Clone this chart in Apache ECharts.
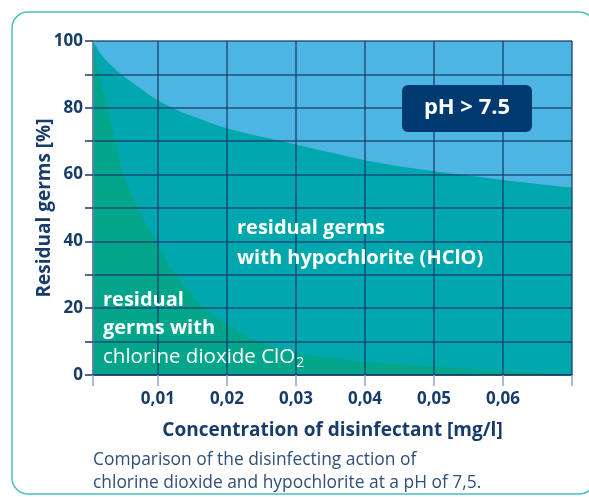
<!DOCTYPE html>
<html><head><meta charset="utf-8">
<script src="https://cdn.jsdelivr.net/npm/echarts@6/dist/echarts.min.js"></script>
<style>html,body{margin:0;padding:0;background:#fff}#c{width:589px;height:497px}</style>
</head><body><div id="c"></div>
<script>
// Hypochlorite (HClO) residual germs curve: concentration [mg/l] -> residual germs [%]
const hypoX = [0.0006, 0.0016, 0.0026, 0.0047, 0.0075, 0.0100, 0.0125, 0.0150, 0.0200, 0.0250, 0.0300, 0.0350, 0.0400, 0.0450, 0.0500, 0.0550, 0.0600, 0.0650, 0.0700];
const hypoY = [100, 96.5, 94.0, 90, 85.8, 82.2, 79.6, 77.5, 73.9, 71.3, 69.0, 66.6, 64.3, 62.5, 61.0, 59.7, 58.4, 57.2, 56.1];
// Chlorine dioxide (ClO2) residual germs curve
const clo2X = [0.0006, 0.0015, 0.0027, 0.0038, 0.0050, 0.0071, 0.0097, 0.0124, 0.0168, 0.0225, 0.0260, 0.0300, 0.0350, 0.0400, 0.0450, 0.0500, 0.0550, 0.0600, 0.0650, 0.0700];
const clo2Y = [100, 90, 80, 70, 60, 50, 40, 30.5, 20, 12, 9.0, 6.6, 5.2, 4.0, 3.2, 2.5, 1.9, 1.3, 0.8, 0.3];
// axis
const xMin = 0.0006, xMax = 0.07;
const xTickLabels = ['0,01', '0,02', '0,03', '0,04', '0,05', '0,06'];
const yLabelled = [0, 20, 40, 60, 80, 100];

const NAVY = '#173c6c';
const FONT = '"Open Sans", "Noto Sans", sans-serif';

const chart = echarts.init(document.getElementById('c'), null, {renderer: 'canvas'});
const pair = (xs, ys) => xs.map((x, i) => [x, ys[i]]);

chart.setOption({
  animation: false,
  grid: {
    left: 93, right: 17, top: 41, bottom: 122,
    show: true, backgroundColor: '#4cb5e1', borderWidth: 0,
    outerBoundsMode: 'none', containLabel: false
  },
  xAxis: {
    type: 'value', min: xMin, max: xMax, splitNumber: 7, z: 10,
    axisLine: {show: true, lineStyle: {color: NAVY, width: 1.5}},
    axisTick: {show: true, length: 11, lineStyle: {color: '#8fa6c4', width: 1.5}},
    splitLine: {show: true, lineStyle: {color: NAVY, width: 1.5, opacity: 0.85}},
    axisLabel: {
      margin: 16, color: NAVY, fontFamily: FONT, fontWeight: 'bold', fontSize: 17,
      showMinLabel: true, showMaxLabel: true,
      formatter: v => {
        const k = Math.round(v * 100);
        if (Math.abs(v * 100 - k) > 1e-6 || k < 1 || k > xTickLabels.length) return '';
        return xTickLabels[k - 1];
      }
    },
    name: 'Concentration of disinfectant [mg/l]', nameLocation: 'middle', nameGap: 46,
    nameMoveOverlap: false,
    nameTextStyle: {color: NAVY, fontFamily: FONT, fontWeight: 'bold', fontSize: 19}
  },
  yAxis: {
    type: 'value', min: 0, max: 100, interval: 10, z: 10,
    axisLine: {show: true, lineStyle: {color: '#6f8cb2', width: 1.5}},
    axisTick: {show: true, length: 8, lineStyle: {color: NAVY, width: 1.5}},
    splitLine: {show: true, lineStyle: {color: NAVY, width: 1.5, opacity: 0.85}},
    axisLabel: {
      margin: 10, color: NAVY, fontFamily: FONT, fontWeight: 'bold', fontSize: 17,
      formatter: v => yLabelled.indexOf(v) >= 0 ? String(v) : ''
    },
    name: 'Residual germs [%]', nameLocation: 'middle', nameGap: 39, nameRotate: 90,
    nameMoveOverlap: false,
    nameTextStyle: {color: NAVY, fontFamily: FONT, fontWeight: 'bold', fontSize: 19}
  },
  series: [
    {
      type: 'line', data: pair(hypoX, hypoY), smooth: 0.25,
      showSymbol: false, silent: true, z: 2,
      lineStyle: {width: 0}, areaStyle: {color: '#00a8ae', opacity: 1}
    },
    {
      type: 'line', data: pair(clo2X, clo2Y), smooth: 0.25,
      showSymbol: false, silent: true, z: 3,
      lineStyle: {width: 0}, areaStyle: {color: '#04a68b', opacity: 1}
    }
  ],
  graphic: [
    {type: 'rect', z: -5, silent: true, shape: {x: 12, y: 12, width: 583, height: 482, r: 16},
     style: {fill: 'transparent', stroke: '#45c0c4', lineWidth: 1.5}},
    {type: 'rect', z: 50, shape: {x: 402, y: 85, width: 130, height: 47, r: 6},
     style: {fill: '#003a70'}},
    {type: 'text', z: 51, x: 467, y: 108,
     style: {text: 'pH > 7.5', fill: '#fff', font: 'bold 22px ' + FONT, align: 'center', verticalAlign: 'middle'}},
    {type: 'text', z: 51, x: 237, y: 228,
     style: {text: 'residual germs', fill: '#fff', font: 'bold 20px ' + FONT, verticalAlign: 'middle'}},
    {type: 'text', z: 51, x: 237, y: 258,
     style: {text: 'with hypochlorite (HClO)', fill: '#fff', font: 'bold 20px ' + FONT, verticalAlign: 'middle'}},
    {type: 'text', z: 51, x: 103, y: 300,
     style: {text: 'residual', fill: '#fff', font: 'bold 20px ' + FONT, verticalAlign: 'middle'}},
    {type: 'text', z: 51, x: 103, y: 328,
     style: {text: 'germs with', fill: '#fff', font: 'bold 20px ' + FONT, verticalAlign: 'middle'}},
    {type: 'text', z: 51, x: 103, y: 357,
     style: {text: '{n|chlorine dioxide ClO}{s|2}', fill: '#fff', verticalAlign: 'middle',
       rich: {n: {fontFamily: FONT, fontSize: 20.5, fill: '#fff'},
              s: {fontFamily: FONT, fontSize: 14, fill: '#fff', padding: [12, 0, 0, 1]}}}},
    {type: 'text', z: 51, x: 93, y: 460,
     style: {text: 'Comparison of the disinfecting action of', fill: '#2f4f7c', font: '17.4px ' + FONT, verticalAlign: 'middle'}},
    {type: 'text', z: 51, x: 93, y: 483,
     style: {text: 'chlorine dioxide and hypochlorite at a pH of 7,5.', fill: '#2f4f7c', font: '17.4px ' + FONT, verticalAlign: 'middle'}}
  ]
});
</script>
</body></html>
